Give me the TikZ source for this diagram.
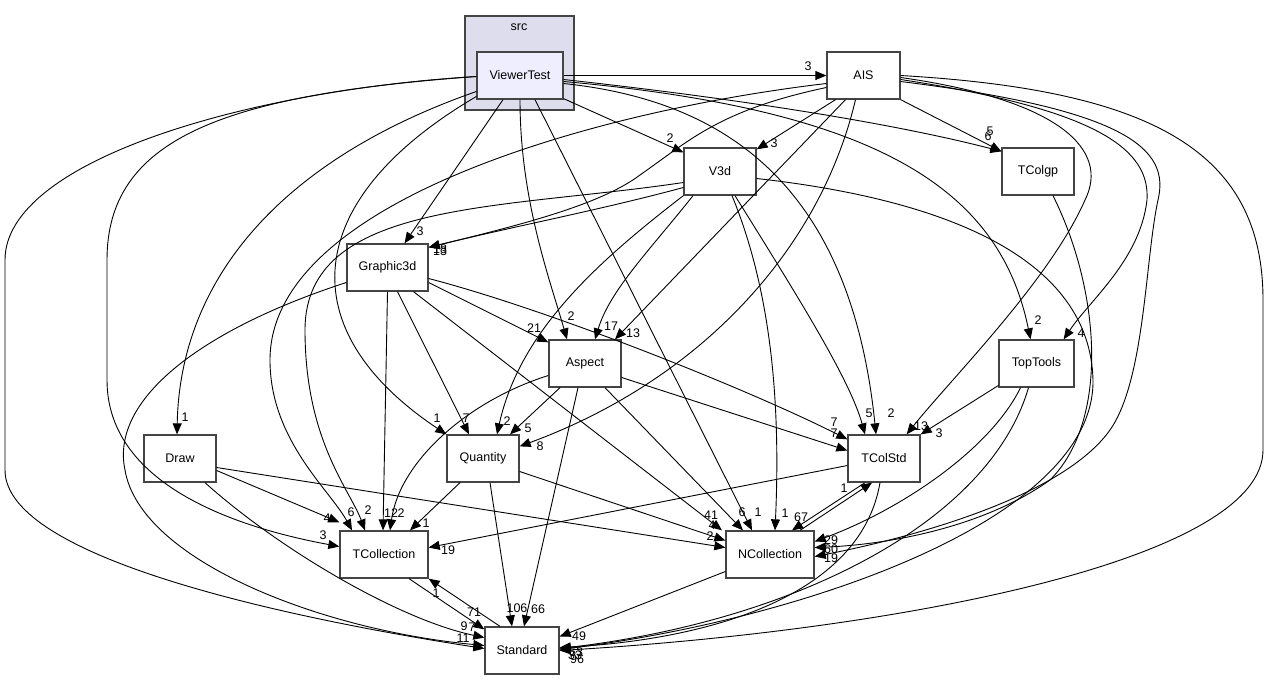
\documentclass[tikz,border=0pt]{standalone}
\usepackage{fontspec}
\setmainfont{Liberation Sans}
\usetikzlibrary{arrows.meta}
\definecolor{clusterfill}{HTML}{DDDDEE}
\definecolor{mainfill}{HTML}{EEEEFF}
\definecolor{boxline}{HTML}{444444}

\begin{document}
\begin{tikzpicture}[x=1pt,y=-1pt,
  dirbox/.style={draw=boxline,line width=1.3pt,fill=white,minimum width=72pt,
    minimum height=47pt,inner sep=0pt,font=\fontsize{12.5}{14}\selectfont},
  dep/.style={line width=0.9pt,-{Triangle[length=11pt,width=9pt]}},
  lbl/.style={inner sep=0pt,font=\fontsize{12.5}{14}\selectfont}]
\useasboundingbox (0,0) rectangle (1269,681);

% cluster
\node[draw=boxline,line width=1.3pt,fill=clusterfill,minimum width=109pt,minimum height=94pt] (src) at (519.5,63) {};
\node[lbl] (srclbl) at (519,27) {src};

% directories
\node[dirbox,fill=mainfill,minimum width=86pt] (vt) at (520,75.5) {ViewerTest};
\node[dirbox,minimum width=73pt] (ais) at (863.5,75.5) {AIS};
\node[dirbox] (v3d) at (720,171.5) {V3d};
\node[dirbox] (tcolgp) at (1038,171.5) {TColgp};
\node[dirbox,minimum width=81pt] (g3d) at (387.5,267.5) {Graphic3d};
\node[dirbox] (aspect) at (585,363.5) {Aspect};
\node[dirbox,minimum width=75pt] (toptools) at (1036.5,363.5) {TopTools};
\node[dirbox] (draw) at (180,458.5) {Draw};
\node[dirbox] (quantity) at (483,458.5) {Quantity};
\node[dirbox] (tcolstd) at (884,458.5) {TColStd};
\node[dirbox,minimum width=88pt] (tcollection) at (384,554.5) {TCollection};
\node[dirbox,minimum width=88pt] (ncollection) at (770,554.5) {NCollection};
\node[dirbox,minimum width=74pt] (standard) at (522,650.5) {Standard};

% ViewerTest
\draw[dep] (vt.east) -- (ais.west) node[lbl] at (808,66) {3};
\draw[dep] ([yshift=1pt]vt.south east) -- ([yshift=-5pt]v3d.north west) node[lbl] at (670,138) {2};
\draw[dep] ([xshift=-17pt]vt.south) -- ([xshift=17pt]g3d.north) node[lbl] at (420,231) {3};
\draw[dep] (vt.south) .. controls (520,200) and (550,280) .. ([xshift=-18pt]aspect.north) node[lbl] at (571,316) {2};
\draw[dep] ([xshift=15pt]vt.south) -- ([xshift=-18pt]ncollection.north) node[lbl] at (758,512) {1};
\draw[dep] ([yshift=-21pt]vt.west) .. controls (300,200) and (290,330) .. (quantity.north west) node[lbl] at (437,418) {1};
\draw[dep] ([yshift=-16pt]vt.west) .. controls (280,160) and (180,280) .. ([xshift=-3pt]draw.north) node[lbl] at (185,417) {1};
\draw[dep] ([yshift=-1pt]vt.west) .. controls (220,95) and (107,140) .. (107,260) -- (107,380)
  .. controls (107,490) and (250,530) .. ([yshift=8pt]tcollection.west) node[lbl] at (323,535) {3};
\draw[dep] ([yshift=-1pt]vt.west) .. controls (250,90) and (5,160) .. (5,260) -- (5,470)
  .. controls (5,560) and (300,620) .. ([yshift=2pt]standard.west) node[lbl] at (463,638) {11};
\draw[dep] ([yshift=-4pt]vt.east) .. controls (750,100) and (900,125) .. ([yshift=-4pt]tcolgp.north west) node[lbl] at (988,136) {6};
\draw[dep] ([yshift=-6pt]vt.east) .. controls (880,110) and (1000,190) .. ([xshift=-6pt]toptools.north) node[lbl] at (1038,320) {2};
\draw[dep] ([yshift=-8pt]vt.east) .. controls (720,100) and (850,180) .. ([xshift=-8pt]tcolstd.north) node[lbl] at (891,413) {2};

% AIS
\draw[dep] ([xshift=-28pt]ais.south) -- ([yshift=-2pt]v3d.north east) node[lbl] at (774,143) {3};
\draw[dep] ([xshift=-18pt]ais.south) -- ([xshift=30pt]aspect.north) node[lbl] at (633,333) {13};
\draw[dep] ([xshift=-8pt]ais.south) .. controls (820,250) and (700,380) .. ([yshift=-12pt]quantity.north east) node[lbl] at (540,446) {8};
\draw[dep] ([yshift=-12pt]ais.west) .. controls (720,110) and (690,140) .. (640,175)
  .. controls (600,205) and (520,225) .. ([yshift=-4pt]g3d.north east) node[lbl] at (440,251) {13};
\draw[dep] ([yshift=-8pt]ais.west) .. controls (600,110) and (270,200) .. (270,360)
  .. controls (270,440) and (330,490) .. ([xshift=-32pt]tcollection.north) node[lbl] at (351,512) {6};
\draw[dep] ([yshift=-2pt]ais.east) .. controls (1060,100) and (1110,150) .. (1085,200)
  .. controls (1050,280) and (950,380) .. ([xshift=-14pt]tcolstd.north east) node[lbl] at (921,426) {13};
\draw[dep] ([yshift=-4pt]ais.east) .. controls (1100,110) and (1150,150) .. (1147,200)
  .. controls (1140,260) and (1090,300) .. ([xshift=-11pt]toptools.north east) node[lbl] at (1081,333) {4};
\draw[dep] (ais.south east) -- ([yshift=-4pt]tcolgp.north west) node[lbl] at (990,131) {5};
\draw[dep] ([yshift=-6pt]ais.east) .. controls (1130,110) and (1170,150) .. (1158,200)
  .. controls (1145,260) and (1145,380) .. (1110,430)
  .. controls (1060,500) and (900,540) .. ([yshift=-2pt]ncollection.east) node[lbl] at (831,558) {19};
\draw[dep] (ais.east) .. controls (1150,90) and (1263,150) .. (1263,300) -- (1263,450)
  .. controls (1263,560) and (900,630) .. (standard.east) node[lbl] at (577,659) {96};

% V3d
\draw[dep] ([yshift=-16pt]v3d.west) .. controls (600,210) and (520,225) .. ([yshift=-4pt]g3d.north east) node[lbl] at (440,249) {18};
\draw[dep] ([yshift=-11pt]v3d.west) .. controls (500,210) and (305,200) .. (305,330)
  .. controls (305,440) and (350,490) .. ([xshift=-19pt]tcollection.north) node[lbl] at (368,510) {2};
\draw[dep] ([xshift=-27pt]v3d.south) .. controls (650,250) and (610,290) .. ([xshift=10pt]aspect.north) node[lbl] at (611,326) {17};
\draw[dep] (v3d.south west) .. controls (600,260) and (520,330) .. ([xshift=14pt]quantity.north) node[lbl] at (507,421) {2};
\draw[dep] ([xshift=15pt]v3d.south) .. controls (800,300) and (850,380) .. ([xshift=-19pt]tcolstd.north) node[lbl] at (869,413) {5};
\draw[dep] ([xshift=12pt]v3d.south) .. controls (775,300) and (780,420) .. ([xshift=5pt]ncollection.north) node[lbl] at (785,513) {1};
\draw[dep] ([yshift=-7pt]v3d.east) .. controls (950,200) and (1090,260) .. (1093,380)
  .. controls (1095,520) and (800,620) .. ([yshift=1pt]standard.east) node[lbl] at (575,655) {33};

% TColgp
\draw[dep] ([xshift=15pt]tcolgp.south) .. controls (1100,290) and (1110,420) .. (1050,480)
  .. controls (980,530) and (880,545) .. ([yshift=7pt]ncollection.east) node[lbl] at (831,549) {60};

% Graphic3d
\draw[dep] ([yshift=-15pt]g3d.east) -- ([yshift=-3pt]aspect.north west) node[lbl] at (534,328) {21};
\draw[dep] ([yshift=-11pt]g3d.east) .. controls (550,310) and (750,390) .. ([yshift=-5pt]tcolstd.north west) node[lbl] at (834,422) {7};
\draw[dep] ([xshift=10pt]g3d.south) -- ([xshift=-14pt]quantity.north) node[lbl] at (466,418) {7};
\draw[dep] ([xshift=26pt]g3d.south) -- ([xshift=-48pt]ncollection.north) node[lbl] at (711,515) {41};
\draw[dep] (g3d.south) -- ([xshift=-1pt]tcollection.north) node[lbl] at (391,513) {12};
\draw[dep] ([yshift=-15pt]g3d.west) .. controls (200,330) and (110,400) .. (125,470)
  .. controls (140,560) and (320,630) .. ([yshift=5pt]standard.west) node[lbl] at (472,627) {7};

% Aspect
\draw[dep] ([xshift=-25pt]aspect.south) -- ([xshift=27pt]quantity.north) node[lbl] at (528,428) {5};
\draw[dep] ([yshift=-14pt]aspect.east) -- ([yshift=8pt]tcolstd.west) node[lbl] at (834,433) {7};
\draw[dep] ([xshift=20pt]aspect.south) -- ([xshift=-27pt]ncollection.north) node[lbl] at (742,512) {6};
\draw[dep] ([yshift=-12pt]aspect.west) .. controls (470,400) and (400,460) .. ([xshift=6pt]tcollection.north) node[lbl] at (401,513) {2};
\draw[dep] ([xshift=-7pt]aspect.south) -- ([xshift=2pt]standard.north) node[lbl] at (538,609) {66};

% Quantity
\draw[dep] ([xshift=-23pt]quantity.south) -- ([xshift=26pt]tcollection.north) node[lbl] at (426,523) {1};
\draw[dep] ([yshift=-13pt]quantity.east) -- ([yshift=14pt]ncollection.west) node[lbl] at (712,525) {4};
\draw[dep] ([xshift=7pt]quantity.south) -- ([xshift=-10pt]standard.north) node[lbl] at (517,608) {106};

% Draw
\draw[dep] ([yshift=-12pt]draw.east) -- ([yshift=8pt]tcollection.north west) node[lbl] at (327,518) {4};
\draw[dep] ([yshift=-9pt]draw.east) -- ([yshift=7pt]ncollection.west) node[lbl] at (710,536) {2};
\draw[dep] ([xshift=25pt]draw.south) .. controls (280,550) and (400,620) .. ([yshift=13pt]standard.west) node[lbl] at (464,626) {9};

% TColStd
\draw[dep] ([yshift=-7pt]tcolstd.west) -- ([yshift=7pt]tcollection.east) node[lbl] at (448,550) {19};
\draw[dep] ([xshift=-19pt]tcolstd.south) -- ([xshift=22pt]ncollection.north) node[lbl] at (801,517) {67};
\draw[dep] ([xshift=-4pt]tcolstd.south) .. controls (860,600) and (700,640) .. ([yshift=3pt]standard.east);

% TopTools
\draw[dep] ([yshift=-22pt]toptools.west) -- (tcolstd.north east) node[lbl] at (939,433) {3};
\draw[dep] ([xshift=-16pt]toptools.south) .. controls (990,450) and (900,510) .. ([yshift=13pt]ncollection.east) node[lbl] at (831,540) {29};
\draw[dep] ([xshift=-8pt]toptools.south) .. controls (990,520) and (800,620) .. ([yshift=2pt]standard.east) node[lbl] at (576,652) {53};

% NCollection
\draw[dep] ([xshift=30pt]ncollection.north) -- ([xshift=-12pt]tcolstd.south) node[lbl] at (844,488) {1};
\draw[dep] ([yshift=-17pt]ncollection.west) -- ([yshift=14pt]standard.east) node[lbl] at (579,636) {49};

% TCollection / Standard
\draw[dep] ([xshift=25pt]tcollection.south) -- ([yshift=-3pt]standard.north west) node[lbl] at (474,612) {71};
\draw[dep] ([xshift=-22pt]standard.north) -- (tcollection.south east) node[lbl] at (436,593) {1};
\end{tikzpicture}
\end{document}
